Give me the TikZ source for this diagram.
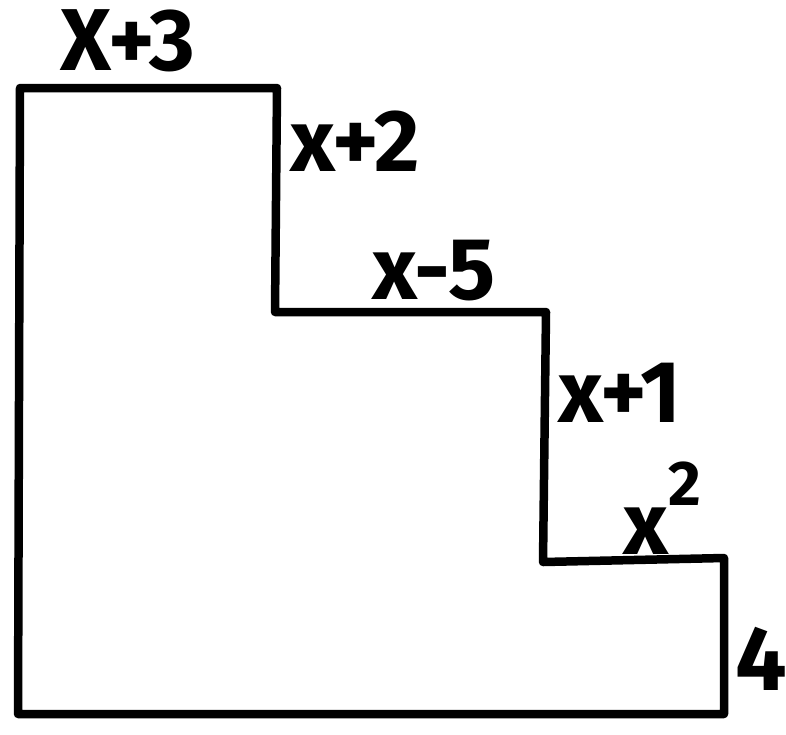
\documentclass[tikz,border=0pt]{standalone}
\usepackage{fontspec}
\setmainfont{Fira Sans}
\usetikzlibrary{positioning}

\tikzset{
    wall/.style={line width=0.17cm, line join=round, line cap=round},
    side/.style={font=\fontsize{50}{54}\selectfont\bfseries, inner sep=0pt, anchor=base}
}

\begin{document}
\begin{tikzpicture}[x=0.02cm, y=-0.02cm]
\useasboundingbox (0,0) rectangle (786,734);
% corners of the staircase
\coordinate (p1) at (20,88);
\coordinate (p2) at (277,88);
\coordinate (p3) at (275,312);
\coordinate (p4) at (546,312);
\coordinate (p5) at (543,562);
\coordinate (p6) at (724,558);
\coordinate (p7) at (724,714);
\coordinate (p8) at (18,714);
\draw[wall] (p1) -- (p2) -- (p3) -- (p4) -- (p5) -- (p6) -- (p7) -- (p8) -- cycle;
% side lengths
\node[side] (top) at (128,70) {X+3};
\node[side] (riseA) at (355,171) {x+2};
\node[side] (tread) at (434,299) {x-5};
\node[side] (riseB) at (620,422) {x+1};
\node[side] (small) at (662,554) {x\raisebox{0.55em}{\fontsize{36}{40}\selectfont 2}};
\node[side, font=\fontsize{52}{56}\selectfont\bfseries] (base) at (761,690) {4};
\end{tikzpicture}
\end{document}
